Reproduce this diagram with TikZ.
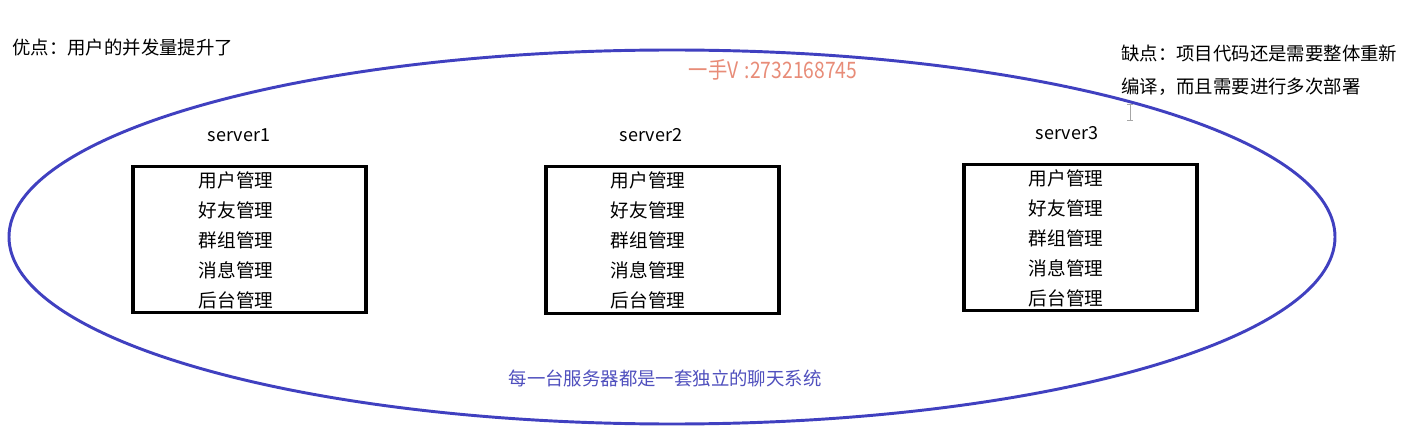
\documentclass[tikz,border=0pt]{standalone}
\usepackage{fontspec}
\setmainfont{Noto Sans CJK SC}
\usetikzlibrary{shapes.geometric}
\definecolor{ellblue}{RGB}{64,64,192}
\definecolor{txtblue}{RGB}{80,80,190}
\definecolor{wmark}{RGB}{232,140,120}
\tikzset{
  lbl/.style={inner sep=0pt, font=\fontsize{13.8}{16}\selectfont},
  srv/.style={inner sep=0pt, font=\fontsize{13.5}{16}\selectfont},
  box/.style={draw=black, line width=2.3pt, minimum width=174.75pt, minimum height=110pt, inner sep=0pt},
  items/.style={inner sep=0pt, align=center, font=\fontsize{14}{22.5}\selectfont},
}
\begin{document}
\begin{tikzpicture}[x=0.75pt,y=-0.75pt]
\useasboundingbox (0,0) rectangle (1408,445);
\fill[white] (0,0) rectangle (1408,445);
\node[ellipse, draw=ellblue, line width=2.2pt, minimum width=994.5pt, minimum height=280.5pt, inner sep=0pt] (ell) at (672,237) {};
\node[lbl, anchor=west] (pro) at (12,48) {优点：用户的并发量提升了};
\node[lbl, anchor=west, align=left, font=\fontsize{13.8}{24.5}\selectfont] (con) at (1121,70) {缺点：项目代码还是需要整体重新\\编译，而且需要进行多次部署};
\node[inner sep=0pt, text=wmark] (wm) at (773,70) {\scalebox{0.85}[1]{\fontsize{17}{19}\selectfont 一手V\,\,:2732168745}};
\node[box] (b1) at (249.5,239.5) {};
\node[box] (b2) at (662.5,240) {};
\node[box] (b3) at (1080.5,237.5) {};
\node[srv] (s1) at (239,135) {server1};
\node[srv] (s2) at (651,135) {server2};
\node[srv] (s3) at (1067,133) {server3};
\node[items] (i1) at (236,240) {用户管理\\好友管理\\群组管理\\消息管理\\后台管理};
\node[items] (i2) at (648,240) {用户管理\\好友管理\\群组管理\\消息管理\\后台管理};
\node[items] (i3) at (1066,238) {用户管理\\好友管理\\群组管理\\消息管理\\后台管理};
\node[lbl, text=txtblue] (note) at (665,378) {每一台服务器都是一套独立的聊天系统};
\coordinate (cur) at (1130,112);
\draw[gray!70, line width=0.7pt] ([yshift=6pt]cur) -- ([yshift=-6pt]cur)
  ([xshift=-2pt,yshift=6pt]cur) -- ([xshift=2pt,yshift=6pt]cur)
  ([xshift=-2pt,yshift=-6pt]cur) -- ([xshift=2pt,yshift=-6pt]cur);
\end{tikzpicture}
\end{document}
